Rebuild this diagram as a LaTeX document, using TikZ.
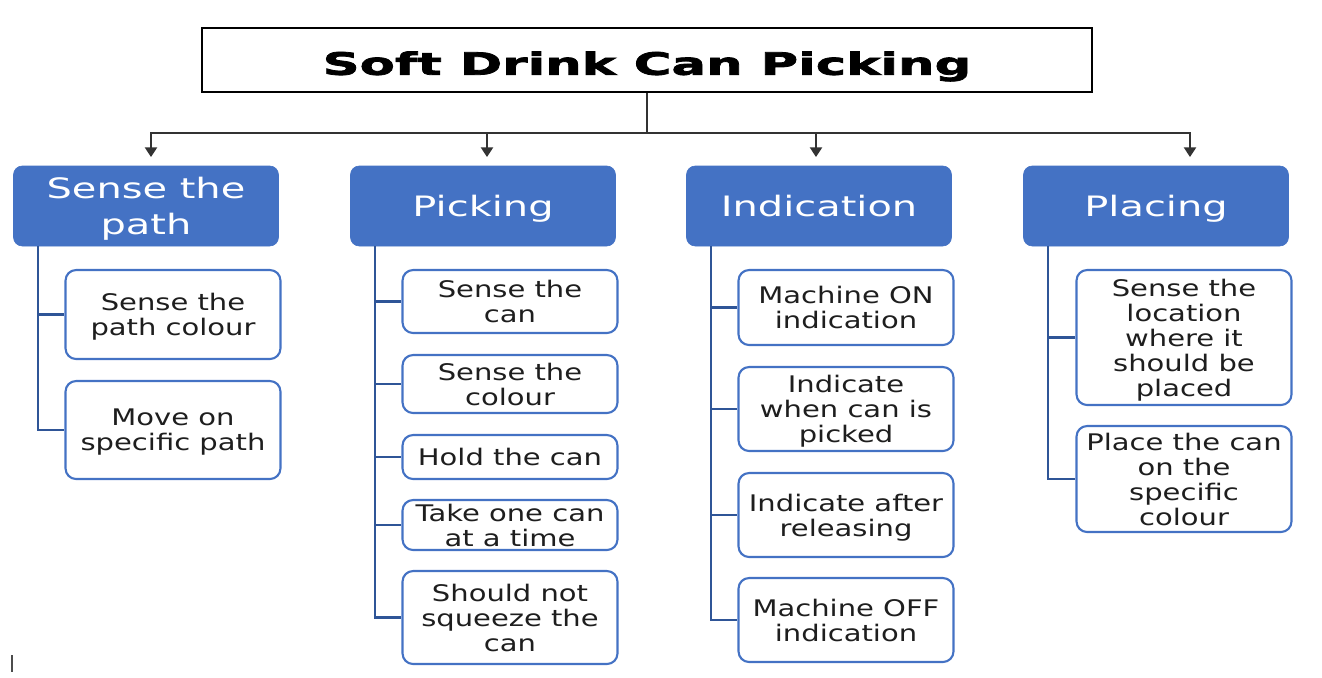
\documentclass[tikz,border=0pt]{standalone}
\usepackage{fontspec}
\setmainfont{DejaVu Sans}[FakeStretch=1.27]
\newfontfamily\titlefont{DejaVu Sans}[FakeStretch=1.67,FakeBold=2.5]
\newfontfamily\headfont{DejaVu Sans}[FakeStretch=1.42]
\usepackage{tikz}
\usetikzlibrary{arrows.meta,positioning}
\definecolor{hdrblue}{HTML}{4472C4}
\definecolor{treeblue}{HTML}{2F5597}
\definecolor{txtgray}{HTML}{1E1E1E}

\begin{document}
\begin{tikzpicture}[
    x=0.02cm, y=-0.02cm,
    title/.style={inner sep=0pt, text height=12.8pt, text depth=0pt,
                  font=\titlefont\bfseries\fontsize{17.5}{21}\selectfont},
    head/.style={draw=hdrblue, fill=hdrblue, rounded corners=5pt, minimum width=5.3cm,
                 minimum height=1.6cm, inner sep=0pt, text=white, align=center,
                 text depth=0pt, font=\headfont\fontsize{16}{20.4}\selectfont},
    item/.style={draw=hdrblue, line width=1.2pt, fill=white, rounded corners=6pt,
                 minimum width=4.3cm, inner sep=0pt, align=center, text=txtgray,
                 text depth=0pt, font=\fontsize{13}{14.2}\selectfont},
    link/.style={line width=0.8pt, black!80},
    arr/.style={link, -{Triangle[width=7pt,length=5.5pt]}},
    tree/.style={treeblue, line width=1.4pt}
]
    \useasboundingbox (0,0) rectangle (1322,677);

    \node[draw, line width=1.2pt, minimum width=17.8cm, minimum height=1.28cm] (title) at (647,60) {};
    \node[title] (ttext) at (647,63.5) {Soft Drink Can Picking};

    \node[head] (h1) at (146,206) {Sense the\\path};
    \node[head] (h2) at (483,206) {Picking};
    \node[head] (h3) at (819,206) {Indication};
    \node[head] (h4) at (1156,206) {Placing};

    \coordinate (bus) at (647,133);
    \coordinate (a1) at (151,157);
    \coordinate (a2) at (487,157);
    \coordinate (a3) at (816,157);
    \coordinate (a4) at (1190,157);

    \node[item, minimum height=1.78cm] (c11) at (173,314.5) {Sense the\\path colour};
    \node[item, minimum height=1.96cm] (c12) at (173,430) {Move on\\specific path};

    \node[item, minimum height=1.26cm] (c21) at (510,301.5) {Sense the\\can};
    \node[item, minimum height=1.16cm] (c22) at (510,384) {Sense the\\colour};
    \node[item, minimum height=0.88cm] (c23) at (510,457) {Hold the can};
    \node[item, minimum height=1.0cm]  (c24) at (510,525) {Take one can\\at a time};
    \node[item, minimum height=1.86cm] (c25) at (510,617.5) {Should not\\squeeze the\\can};

    \node[item, minimum height=1.5cm]  (c31) at (846,307.5) {Machine ON\\indication};
    \node[item, minimum height=1.68cm] (c32) at (846,409) {Indicate\\when can is\\picked};
    \node[item, minimum height=1.68cm] (c33) at (846,515) {Indicate after\\releasing};
    \node[item, minimum height=1.68cm] (c34) at (846,620) {Machine OFF\\indication};

    \node[item, minimum height=2.7cm]  (c41) at (1184,337.5) {Sense the\\location\\where it\\should be\\placed};
    \node[item, minimum height=2.12cm] (c42) at (1184,479) {Place the can\\on the\\specific\\colour};

    % title to the four groups
    \draw[link] (title.south) -- (bus);
    \foreach \i in {1,...,4}
        \draw[arr] (bus) -| (a\i);

    % group trees
    \foreach \c in {c11,c12}
        \draw[tree] ([xshift=0.5cm]h1.south west) |- (\c.west);
    \foreach \c in {c21,c22,c23,c24,c25}
        \draw[tree] ([xshift=0.5cm]h2.south west) |- (\c.west);
    \foreach \c in {c31,c32,c33,c34}
        \draw[tree] ([xshift=0.5cm]h3.south west) |- (\c.west);
    \foreach \c in {c41,c42}
        \draw[tree] ([xshift=0.5cm]h4.south west) |- (\c.west);

    \draw[black!70, line width=1.1pt] (12,655) -- (12,672);
\end{tikzpicture}
\end{document}
